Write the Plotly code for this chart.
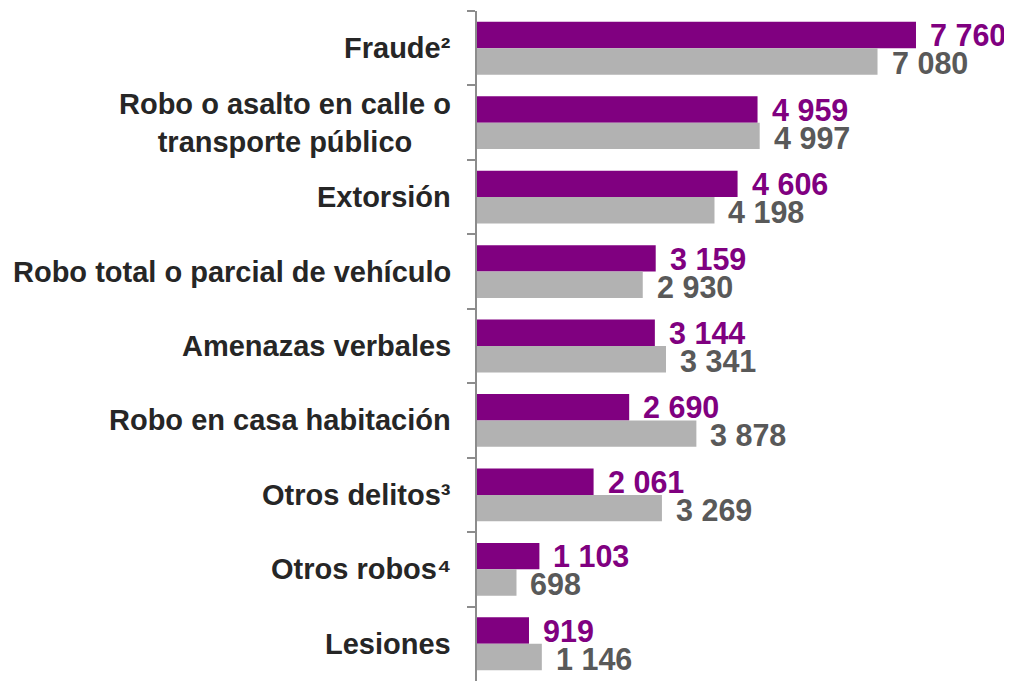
import plotly.graph_objects as go

categories = [
    "Fraude²",
    "Robo o asalto en calle o<br>transporte público",
    "Extorsión",
    "Robo total o parcial de vehículo",
    "Amenazas verbales",
    "Robo en casa habitación",
    "Otros delitos³",
    "Otros robos⁴",
    "Lesiones",
]
series_a = [7760, 4959, 4606, 3159, 3144, 2690, 2061, 1103, 919]
series_b = [7080, 4997, 4198, 2930, 3341, 3878, 3269, 698, 1146]

PURPLE = "#800080"
GRAY = "#B2B2B2"
GRAY_TEXT = "#595959"
CAT_TEXT = "#262626"
FONT = "Liberation Sans, Arial, sans-serif"


def fmt(v):
    return f"{v:,}".replace(",", " ")


fig = go.Figure()
fig.add_trace(go.Bar(y=categories, x=series_a, orientation="h",
                     marker=dict(color=PURPLE, line=dict(width=0)), name="A"))
fig.add_trace(go.Bar(y=categories, x=series_b, orientation="h",
                     marker=dict(color=GRAY, line=dict(width=0)), name="B"))

annotations = []
for c, a, b in zip(categories, series_a, series_b):
    annotations.append(dict(x=a, y=c, xref="x", yref="y", text=f"<b>{fmt(a)}</b>",
                            showarrow=False, xanchor="left", yanchor="middle",
                            xshift=12, yshift=13,
                            font=dict(family=FONT, size=30.5, color=PURPLE)))
    annotations.append(dict(x=b, y=c, xref="x", yref="y", text=f"<b>{fmt(b)}</b>",
                            showarrow=False, xanchor="left", yanchor="middle",
                            xshift=12, yshift=-15,
                            font=dict(family=FONT, size=30.5, color=GRAY_TEXT)))
    annotations.append(dict(x=0, y=c, xref="paper", yref="y", text=f"<b>{c}</b>",
                            showarrow=False, xanchor="right", yanchor="middle",
                            align="center", xshift=-24,
                            font=dict(family=FONT, size=29, color=CAT_TEXT)))

fig.update_layout(
    width=1004, height=675,
    margin=dict(l=469, r=12, t=3, b=2),
    paper_bgcolor="white", plot_bgcolor="white",
    barmode="group", bargap=0.29, bargroupgap=0,
    showlegend=False,
    annotations=annotations,
    xaxis=dict(range=[0, 9245], visible=False, showgrid=False, zeroline=False),
    yaxis=dict(autorange="reversed", type="category", showticklabels=False,
               ticks="outside", ticklen=8, tickwidth=1.5, tickcolor="#8C8C8C",
               tickson="boundaries", showline=True, linecolor="#8C8C8C",
               linewidth=1.5, showgrid=False, zeroline=False),
)

fig.write_html("out.html")
